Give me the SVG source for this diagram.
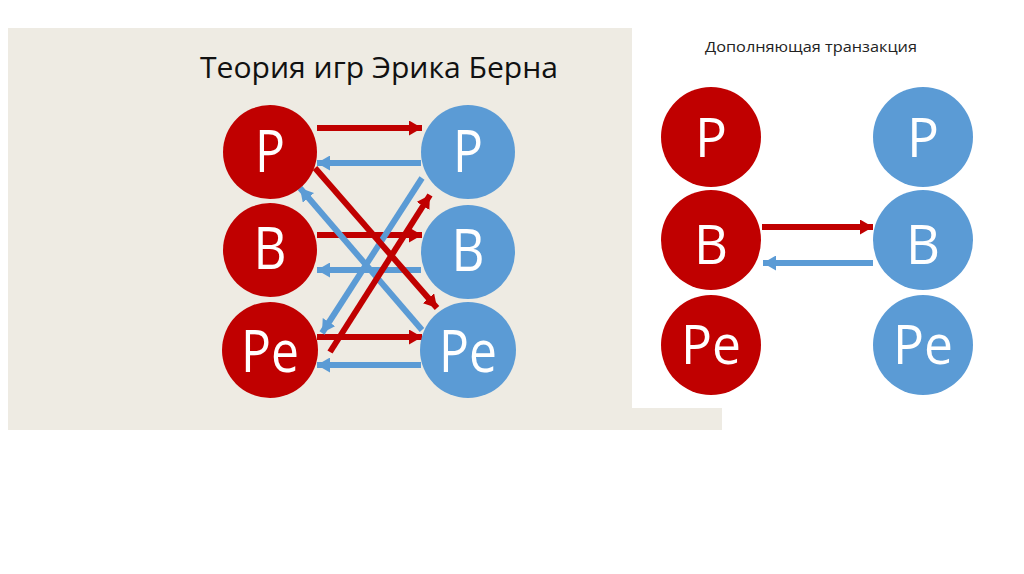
<svg xmlns="http://www.w3.org/2000/svg" width="1024" height="574" viewBox="0 0 1024 574">
<style>
.red{fill:#C00000}
.blue{fill:#5B9BD5}
.lbl{font-family:"Open Sans","Liberation Sans",sans-serif;fill:#ffffff;text-anchor:middle}
.l{font-size:58px}
.r{font-size:55px}
.ar{stroke:#C00000;stroke-width:6;fill:none;marker-end:url(#ha-r)}
.ab{stroke:#5B9BD5;stroke-width:6;fill:none;marker-end:url(#ha-b)}
</style>
<defs>
<marker id="ha-r" markerUnits="userSpaceOnUse" markerWidth="15" markerHeight="15" refX="13" refY="7.5" orient="auto"><path d="M0,0 L13,7.5 L0,15 Z" fill="#C00000"/></marker>
<marker id="ha-b" markerUnits="userSpaceOnUse" markerWidth="15" markerHeight="15" refX="13" refY="7.5" orient="auto"><path d="M0,0 L13,7.5 L0,15 Z" fill="#5B9BD5"/></marker>
</defs>
<rect width="1024" height="574" fill="#ffffff"/>
<rect x="8" y="28" width="624" height="402" fill="#EEEBE3"/>
<rect x="632" y="408" width="90" height="22" fill="#EEEBE3"/>
<text x="200" y="78" font-family="Open Sans, Liberation Sans, sans-serif" font-size="30" fill="#111" textLength="358" lengthAdjust="spacingAndGlyphs">Теория игр Эрика Берна</text>
<text x="705" y="52" font-family="Open Sans, Liberation Sans, sans-serif" font-size="14.5" fill="#222" textLength="212" lengthAdjust="spacingAndGlyphs">Дополняющая транзакция</text>

<g id="connectors">
<line class="ar" x1="317" y1="128" x2="422" y2="128"/>
<line class="ab" x1="421" y1="163" x2="317" y2="163"/>
<line class="ar" x1="317" y1="235" x2="422" y2="235"/>
<line class="ab" x1="421" y1="270" x2="317" y2="270"/>
<line class="ar" x1="317" y1="337" x2="422" y2="337"/>
<line class="ab" x1="421" y1="365" x2="317" y2="365"/>
<line class="ab" x1="422" y1="330" x2="300" y2="188"/>
<line class="ab" x1="422" y1="178" x2="322" y2="333"/>
<line class="ar" x1="315" y1="168" x2="437" y2="308"/>
<line class="ar" x1="330" y1="352" x2="430" y2="195"/>
<line class="ar" x1="762" y1="227" x2="873" y2="227"/>
<line class="ab" x1="873" y1="263" x2="763" y2="263"/>
</g>

<g id="l-red-p"><circle class="red" cx="270" cy="152" r="47"/><text class="lbl l" x="270" y="172" textLength="30" lengthAdjust="spacingAndGlyphs">P</text></g>
<g id="l-red-b"><circle class="red" cx="270" cy="250" r="47"/><text class="lbl l" x="270" y="269" textLength="33" lengthAdjust="spacingAndGlyphs">B</text></g>
<g id="l-red-pe"><circle class="red" cx="270" cy="350" r="48"/><text class="lbl l" x="270" y="372" textLength="58" lengthAdjust="spacingAndGlyphs">Pe</text></g>
<g id="l-blue-p"><circle class="blue" cx="468" cy="152" r="47"/><text class="lbl l" x="468" y="172" textLength="30" lengthAdjust="spacingAndGlyphs">P</text></g>
<g id="l-blue-b"><circle class="blue" cx="468" cy="252" r="47"/><text class="lbl l" x="468" y="271" textLength="33" lengthAdjust="spacingAndGlyphs">B</text></g>
<g id="l-blue-pe"><circle class="blue" cx="468" cy="350" r="48"/><text class="lbl l" x="468" y="372" textLength="58" lengthAdjust="spacingAndGlyphs">Pe</text></g>

<g id="r-red-p"><circle class="red" cx="711" cy="137" r="50"/><text class="lbl r" x="711" y="157" textLength="32" lengthAdjust="spacingAndGlyphs">P</text></g>
<g id="r-red-b"><circle class="red" cx="711" cy="240" r="50"/><text class="lbl r" x="711" y="264" textLength="34" lengthAdjust="spacingAndGlyphs">B</text></g>
<g id="r-red-pe"><circle class="red" cx="711" cy="345" r="50"/><text class="lbl r" x="711" y="364" textLength="60" lengthAdjust="spacingAndGlyphs">Pe</text></g>
<g id="r-blue-p"><circle class="blue" cx="923" cy="137" r="50"/><text class="lbl r" x="923" y="157" textLength="32" lengthAdjust="spacingAndGlyphs">P</text></g>
<g id="r-blue-b"><circle class="blue" cx="923" cy="240" r="50"/><text class="lbl r" x="923" y="264" textLength="34" lengthAdjust="spacingAndGlyphs">B</text></g>
<g id="r-blue-pe"><circle class="blue" cx="923" cy="345" r="50"/><text class="lbl r" x="923" y="364" textLength="60" lengthAdjust="spacingAndGlyphs">Pe</text></g>
</svg>
